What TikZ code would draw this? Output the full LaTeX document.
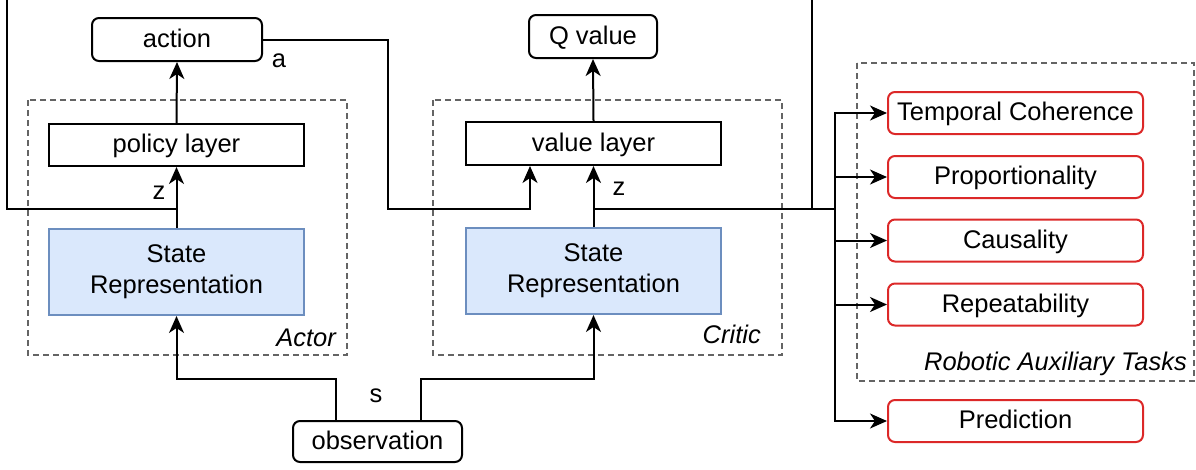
\documentclass[tikz,border=0pt]{standalone}
\usepackage{fontspec}
\setmainfont{Liberation Sans}
\usetikzlibrary{arrows.meta}
\definecolor{bluefill}{RGB}{218,232,252}
\definecolor{blueline}{RGB}{108,142,191}
\definecolor{redline}{RGB}{220,40,40}
\definecolor{grpline}{RGB}{100,100,100}
\begin{document}
\begin{tikzpicture}[x=1pt,y=-1pt,
  font=\fontsize{25.5}{31}\selectfont,
  ln/.style={line width=2pt, draw=black},
  arr/.style={ln, -{Stealth[length=17pt,width=15pt,inset=5pt]}},
  box/.style={draw, line width=2pt, inner sep=0pt, minimum width=255pt},
  one/.style={box, text height=18pt, text depth=3pt},
  rbox/.style={one, rounded corners=7pt},
  srbox/.style={box, align=center, fill=bluefill, draw=blueline, minimum height=86pt},
  redbox/.style={rbox, draw=redline, minimum height=42pt},
  grp/.style={draw=grpline, line width=1.8pt, dash pattern=on 6pt off 4pt},
  lbl/.style={inner sep=0pt},
  itl/.style={lbl, anchor=east, font=\fontsize{25.5}{31}\selectfont\itshape}
]
\useasboundingbox (0,0) rectangle (1196,469);

% group frames
\draw[grp] (28,100) rectangle (347,355);
\draw[grp] (433,100) rectangle (782,355);
\draw[grp] (857,63) rectangle (1194,381);
\node[itl] (actorlbl) at (336,338) {Actor};
\node[itl] (criticlbl) at (761,334) {Critic};
\node[itl] (ratlbl) at (1187,364) {Robotic Auxiliary Tasks};

% nodes
\node[rbox, minimum width=170pt, minimum height=43pt] (action) at (177,39.5) {action};
\node[rbox, minimum width=128pt, minimum height=43pt] (q) at (593,36.5) {Q value};
\node[one, minimum height=42pt] (policy) at (176.5,145) {policy layer};
\node[one, minimum height=43pt] (vl) at (593.5,143.5) {value layer};
\node[srbox] (asr) at (176.5,272) {State\\Representation};
\node[srbox] (csr) at (593.5,271) {State\\Representation};
\node[rbox, minimum width=169pt, minimum height=41pt] (obs) at (377.5,441.5) {observation};

\node[redbox] (tc) at (1015.5,113) {Temporal Coherence};
\node[redbox] (prop) at (1015.5,177) {Proportionality};
\node[redbox] (caus) at (1015.5,240.5) {Causality};
\node[redbox] (rep) at (1015.5,304.5) {Repeatability};
\node[redbox] (pred) at (1015.5,421) {Prediction};

% labels
\node[lbl] (la) at (279,61) {a};
\node[lbl] (lz1) at (159,193) {z};
\node[lbl] (lz2) at (619,189) {z};
\node[lbl] (ls) at (376,396) {s};

% coordinates
\coordinate (topL) at (7,0);
\coordinate (za) at (176.5,209);
\coordinate (topR) at (812,0);
\coordinate (zR) at (812,209);
\coordinate (zc) at (593.5,209);
\coordinate (bus) at (835,209);
\coordinate (aR) at (388,209);
\coordinate (cA) at (530,209);

% observation to state representations
\draw[arr] ([xshift=-41.5pt]obs.north) -- ++(0,-41) -| (asr.south);
\draw[arr] ([xshift=43.5pt]obs.north) -- ++(0,-41) -| (csr.south);
\draw[arr] (asr.north) -- (policy.south);
\draw[arr] (policy.north) -- (action.south);
\draw[arr] (csr.north) -- (vl.south);
\draw[arr] (vl.north) -- (q.south);

% action to value layer
\draw[arr] (action.east) -| (aR) -- (cA) -- (cA |- vl.south);

% feedback lines
\draw[ln] (topL) |- (za);
\draw[ln] (topR) -- (zR);
\draw[ln] (zc) -- (bus);

% bus to auxiliary tasks
\draw[arr] (bus) |- (tc.west);
\draw[arr] (bus) |- (prop.west);
\draw[arr] (bus) |- (caus.west);
\draw[arr] (bus) |- (rep.west);
\draw[arr] (bus) |- (pred.west);
\end{tikzpicture}
\end{document}
